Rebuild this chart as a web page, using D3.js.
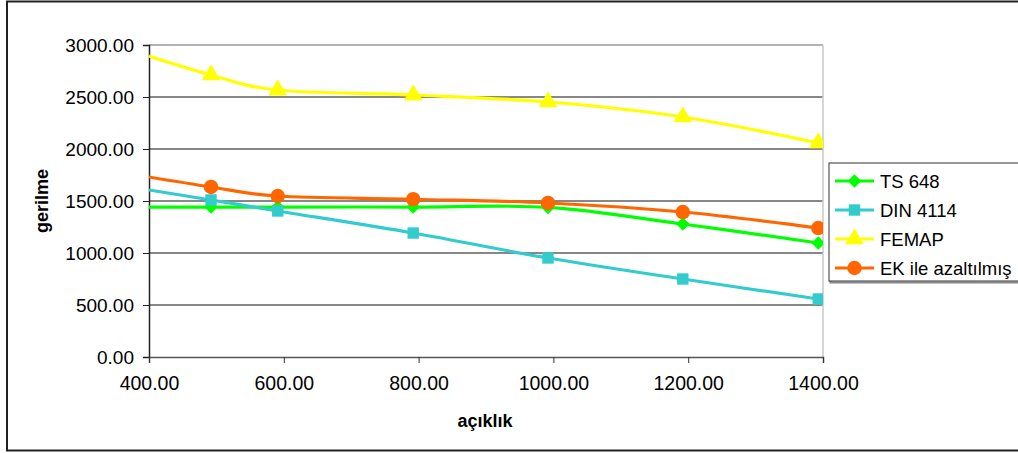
<!DOCTYPE html>
<html>
<head>
<meta charset="utf-8">
<script src="https://cdn.jsdelivr.net/npm/d3@7"></script>
<style>
  html, body { margin: 0; padding: 0; background: #fff; }
  svg { display: block; font-family: "Liberation Sans", Arial, sans-serif; }
</style>
</head>
<body>
<svg id="chart" width="1018" height="453"></svg>
<script>
// ---- data ----
const xValues   = [400, 492, 591, 792, 992, 1192, 1393];
const ts648     = [1442, 1442, 1442, 1442, 1438, 1279, 1096];
const din4114   = [1606, 1510, 1404, 1192, 952, 750, 558];
const femap     = [2894, 2712, 2567, 2519, 2452, 2308, 2058];
const ekAzalt   = [1731, 1635, 1548, 1517, 1481, 1394, 1240];
const seriesNames = ["TS 648", "DIN 4114", "FEMAP", "EK ile azaltılmış"];
const xTicks = [400, 600, 800, 1000, 1200, 1400];
const yTicks = [0, 500, 1000, 1500, 2000, 2500, 3000];
const xTitle = "açıklık";
const yTitle = "gerilme";

const seriesValues = [ts648, din4114, femap, ekAzalt];
const colors = ["#00ff00", "#33cccc", "#ffff00", "#ff6600"];
const shapes = [d3.symbolDiamond2, d3.symbolSquare, d3.symbolTriangle, d3.symbolCircle];
const sizes = [115, 130, 150, 165];

const svg = d3.select("#chart");

// outer chart border
svg.append("rect").attr("x", 7).attr("y", 1.5).attr("width", 1030).attr("height", 449)
  .attr("fill", "#fff").attr("stroke", "#222").attr("stroke-width", 2);

const pL = 149, pR = 823, pT = 45, pB = 357;
const x = d3.scaleLinear().domain([400, 1400]).range([pL, pR]);
const y = d3.scaleLinear().domain([0, 3000]).range([pB, pT]);

// gridlines
svg.append("g").selectAll("line").data(yTicks.filter(v => v > 0 && v < 3000)).join("line")
  .attr("x1", pL).attr("x2", pR)
  .attr("y1", d => y(d)).attr("y2", d => y(d))
  .attr("stroke", "#111").attr("stroke-width", 1);

// plot area border top/right
svg.append("line").attr("x1", pL).attr("x2", pR).attr("y1", pT).attr("y2", pT)
  .attr("stroke", "#999").attr("stroke-width", 1.5);
svg.append("line").attr("x1", pR).attr("x2", pR).attr("y1", pT).attr("y2", pB)
  .attr("stroke", "#c8c8c8").attr("stroke-width", 1.5);

// axes
const yAxis = d3.axisLeft(y).tickValues(yTicks).tickFormat(d3.format(".2f")).tickSize(6).tickPadding(9);
const gy = svg.append("g").attr("transform", `translate(${pL},0)`).call(yAxis);
gy.select(".domain").attr("stroke", "#222").attr("stroke-width", 1.5);
gy.selectAll(".tick line").attr("stroke", "#222");
gy.selectAll("text").attr("font-size", 19).attr("fill", "#000");

const xAxis = d3.axisBottom(x).tickValues(xTicks).tickFormat(d3.format(".2f")).tickSize(6).tickPadding(13);
const gx = svg.append("g").attr("transform", `translate(0,${pB})`).call(xAxis);
gx.select(".domain").attr("stroke", "#555").attr("stroke-width", 1.5);
gx.selectAll(".tick line").attr("stroke", "#333");
gx.selectAll("text").attr("font-size", 19.5).attr("fill", "#000");

// axis titles
svg.append("text").attr("x", 485).attr("y", 427).attr("text-anchor", "middle")
  .attr("font-size", 18).attr("font-weight", "bold").text(xTitle);
svg.append("text").attr("transform", "translate(48,201) rotate(-90)").attr("text-anchor", "middle")
  .attr("font-size", 18).attr("font-weight", "bold").text(yTitle);

// clip
svg.append("clipPath").attr("id", "plotclip").append("rect")
  .attr("x", pL).attr("y", pT - 10).attr("width", pR - pL).attr("height", pB - pT + 10);

const line = d3.line().x(d => x(d[0])).y(d => y(d[1])).curve(d3.curveCardinal.tension(0));
const plot = svg.append("g").attr("clip-path", "url(#plotclip)");

seriesValues.forEach((vals, i) => {
  const pts = xValues.map((xv, j) => [xv, vals[j]]);
  plot.append("path").datum(pts).attr("d", line)
    .attr("fill", "none").attr("stroke", colors[i]).attr("stroke-width", 3.2);
});
seriesValues.forEach((vals, i) => {
  const pts = xValues.map((xv, j) => [xv, vals[j]]).slice(1);
  plot.append("g").selectAll("path").data(pts).join("path")
    .attr("transform", d => `translate(${x(d[0])},${y(d[1])})`)
    .attr("d", d3.symbol().type(shapes[i]).size(sizes[i]))
    .attr("fill", colors[i]);
});

// legend
const lg = svg.append("g");
lg.append("rect").attr("x", 830.5).attr("y", 164.5).attr("width", 200).attr("height", 118)
  .attr("fill", "none").attr("stroke", "#888").attr("stroke-width", 2);
lg.append("rect").attr("x", 829).attr("y", 163).attr("width", 200).attr("height", 118)
  .attr("fill", "#fff").attr("stroke", "#333").attr("stroke-width", 1);
seriesNames.forEach((name, i) => {
  const cy = 181 + i * 29;
  lg.append("line").attr("x1", 835).attr("x2", 874).attr("y1", cy).attr("y2", cy)
    .attr("stroke", colors[i]).attr("stroke-width", 3.2);
  lg.append("path").attr("transform", `translate(854.5,${cy})`)
    .attr("d", d3.symbol().type(shapes[i]).size(sizes[i])).attr("fill", colors[i]);
  lg.append("text").attr("x", 880).attr("y", cy + 6.5).attr("font-size", 18.5).text(name);
});
</script>
</body>
</html>
